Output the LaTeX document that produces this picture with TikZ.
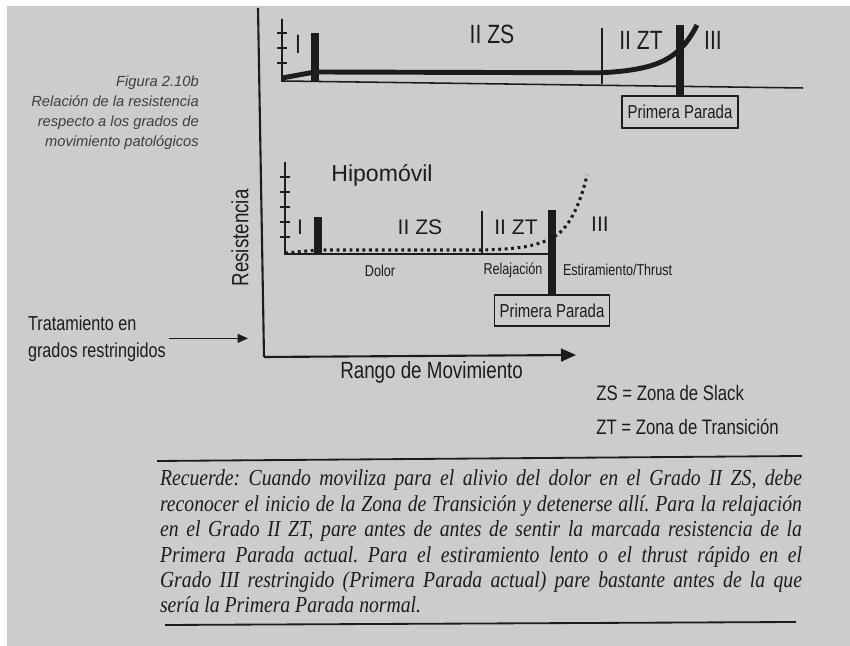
\documentclass[tikz,border=0pt]{standalone}
\usepackage{fontspec}
\setmainfont{Liberation Serif}
\setsansfont{Liberation Sans}
\newfontfamily\narrowsf[FakeStretch=0.8]{Liberation Sans}
\newfontfamily\notefont[FakeStretch=0.86]{Liberation Serif}
\usepackage{tikz}
\usetikzlibrary{arrows.meta}
\definecolor{pagegray}{RGB}{204,204,206}
\definecolor{ink}{RGB}{28,28,28}
\frenchspacing

\begin{document}
\begin{tikzpicture}[
	zone/.style={inner sep=0, text=ink, font=\narrowsf\fontsize{18.8}{20}\selectfont},
	zonelow/.style={inner sep=0, text=ink, font=\sffamily\fontsize{15}{17}\selectfont},
	phase/.style={inner sep=0, text=ink, font=\narrowsf\fontsize{11.2}{13}\selectfont},
	stopbox/.style={draw=ink, line width=1.2pt, inner sep=0, minimum width=2.9cm, minimum height=0.8cm, text=ink, font=\narrowsf\fontsize{13.3}{15}\selectfont},
	gridline/.style={draw=ink, line width=1.1pt},
	stopbar/.style={draw=ink, line width=5pt},
	axislabel/.style={inner sep=0, text=ink, font=\narrowsf\fontsize{16.7}{19}\selectfont}
]
	\fill [white] (0,0) rectangle (21.25,16.15);
	\fill [pagegray] (0.175,0) rectangle (21.25,16.0);
	\useasboundingbox (0,0) rectangle (21.25,16.15);

	\node [inner sep=0, anchor=east, align=right, text=ink!85, font=\sffamily\itshape\fontsize{10.45}{14.2}\selectfont] (caption) at (4.975,13.325) {Figura 2.10b\\Relación de la resistencia\\respecto a los grados de\\movimiento patológicos};

	% main axes
	\coordinate (ytop) at (6.45,15.95);
	\coordinate (orig) at (6.6,7.225);
	\coordinate (xend) at (14.4,7.275);
	\draw [ink, line width=1.5pt] (ytop) -- (orig);
	\draw [ink, line width=1.5pt, -{Triangle[length=3.75mm,width=3.2mm]}] (orig) -- (xend);
	\node [axislabel, rotate=90] (resist) at (6.0,10.2) {Resistencia};
	\node [axislabel] (rango) at (10.79,6.85) {Rango de Movimiento};

	\node [inner sep=2pt, anchor=west, align=left, text=ink, font=\narrowsf\fontsize{14.4}{19.2}\selectfont] (treat) at (0.625,7.69) {Tratamiento en\\grados restringidos};
	\coordinate (treatend) at (6.2,7.69);
	\draw [ink, line width=1.2pt, -{Triangle[length=2.6mm,width=2.2mm]}] (treat) -- (treatend);

	% upper graph
	\coordinate (axA) at (7.05,15.675);
	\coordinate (origA) at (7.05,14.125);
	\coordinate (endA) at (20.075,13.95);
	\draw [gridline] (axA) -- (origA) -- (endA);
	\foreach \ty in {15.325,14.95,14.575}
		\draw [gridline] (6.925,\ty) -- (7.175,\ty);
	\draw [ink, line width=3.5pt, line join=round] (7.05,14.2) -- (7.875,14.35) -- (15.0,14.33) .. controls (16.5,14.4) and (17.0,14.7) .. (17.425,15.525);
	\draw [stopbar] (7.875,14.125) -- (7.875,15.325);
	\draw [gridline] (15.05,14.05) -- (15.05,15.45);
	\node [stopbox] (stopA) at (17.0,13.35) {Primera Parada};
	\coordinate (barA) at (17.0,15.525);
	\draw [stopbar] (stopA.north) -- (barA);
	\node [zone] (IA) at (7.45,15.05) {I};
	\node [zone] (IIzsA) at (12.3,15.29) {II ZS};
	\node [zone] (IIztA) at (16.025,15.15) {II ZT};
	\node [zone] (IIIA) at (17.825,15.15) {III};

	% lower graph
	\coordinate (axB) at (7.125,12.1);
	\coordinate (origB) at (7.125,9.8);
	\coordinate (endB) at (13.75,9.8);
	\draw [gridline] (axB) -- (origB) -- (endB);
	\foreach \ty in {11.725,11.35,10.975,10.6,10.225}
		\draw [gridline] (7.0,\ty) -- (7.25,\ty);
	\draw [ink, line width=2.2pt, dash pattern=on 2pt off 2.6pt] (7.125,9.825) -- (7.95,9.9) -- (12.0,9.9) .. controls (13.0,9.92) and (13.4,10.0) .. (13.8,10.2) .. controls (14.2,10.4) and (14.5,11.0) .. (14.675,11.775);
	\draw [stopbar] (7.95,9.8) -- (7.95,10.725);
	\draw [gridline] (12.05,9.8) -- (12.05,10.875);
	\node [stopbox, minimum width=2.875cm, minimum height=0.775cm] (stopB) at (13.8,8.3875) {Primera Parada};
	\coordinate (barB) at (13.8,10.9);
	\draw [stopbar] (stopB.north) -- (barB);
	\node [inner sep=0, text=ink, font=\sffamily\fontsize{16.4}{18}\selectfont] (hipo) at (9.55,11.775) {Hipomóvil};
	\node [zonelow] (IB) at (7.5,10.475) {I};
	\node [zonelow] (IIzsB) at (10.5,10.475) {II ZS};
	\node [zonelow] (IIztB) at (12.9,10.475) {II ZT};
	\node [zonelow] (IIIB) at (15.0,10.55) {III};
	\node [phase] (dolor) at (9.5,9.375) {Dolor};
	\node [phase] (relaj) at (12.825,9.4) {Relajación};
	\node [phase] (estir) at (15.44,9.4) {Estiramiento/Thrust};

	% legend and note
	\node [inner sep=0, anchor=west, text=ink, font=\narrowsf\fontsize{14.9}{17}\selectfont] (legzs) at (14.9,6.325) {ZS = Zona de Slack};
	\node [inner sep=0, anchor=west, text=ink, font=\narrowsf\fontsize{14.9}{17}\selectfont] (legzt) at (14.9,5.475) {ZT = Zona de Transición};
	\draw [ink, line width=1.3pt] (3.925,4.625) -- (20.05,4.75);
	\node [inner sep=0, text width=16.05cm, align=justify, text=ink, font=\notefont\itshape\fontsize{16.3}{18.1}\selectfont] (note) at (12.025,2.6125) {Recuerde: Cuando moviliza para el alivio del dolor en el Grado II ZS, debe\linebreak reconocer el inicio de la Zona de Transición y detenerse allí. Para la relajación\linebreak en el Grado II ZT, pare antes de antes de sentir la marcada resistencia de la\linebreak Primera Parada actual. Para el estiramiento lento o el thrust rápido en el\linebreak Grado III restringido (Primera Parada actual) pare bastante antes de la que\linebreak sería la Primera Parada normal.};
	\draw [ink, line width=1.3pt] (4.125,0.525) -- (19.9,0.6);
\end{tikzpicture}
\end{document}
